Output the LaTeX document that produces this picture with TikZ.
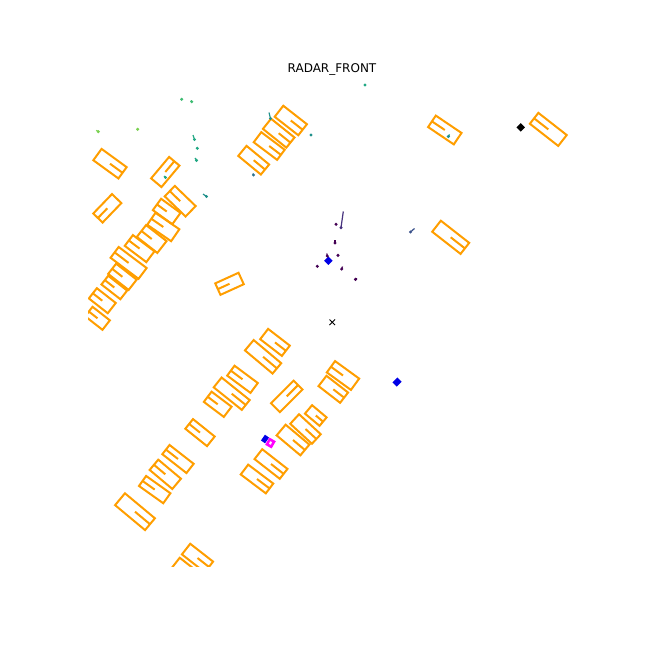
\documentclass[tikz,border=0pt]{standalone}
\usepackage{fontspec}
\setmainfont{DejaVu Sans}
\definecolor{carorange}{RGB}{255,158,0}
\definecolor{pedblue}{RGB}{0,0,230}
\definecolor{bikemagenta}{RGB}{255,0,255}
\definecolor{vir1}{HTML}{440154}
\definecolor{vir2}{HTML}{46327E}
\definecolor{vir3}{HTML}{3B528B}
\definecolor{vir4}{HTML}{2C728E}
\definecolor{vir5}{HTML}{21918C}
\definecolor{vir6}{HTML}{22A884}
\definecolor{vir7}{HTML}{3FBC73}
\definecolor{vir8}{HTML}{7AD151}

\begin{document}
\begin{tikzpicture}[x=1pt, y=-1pt,
    carbox/.style={draw=carorange, line width=2pt},
    pedbox/.style={draw, fill, line width=2pt},
    radarpt/.style={line width=1.2pt}
  ]
  \useasboundingbox (0,0) rectangle (648,648);
  \node[font=\fontsize{12}{14}\selectfont] (title) at (332,69) {RADAR\_FRONT};
  \begin{scope}
    \clip (88,78) rectangle (576,566);
    \foreach \cx/\cy/\ang/\len/\wid in {
        110/163.7/36/31/14, 107.3/208.3/134/27/13, 165.3/172/-50/28/13.5,
        180.2/201.2/-136/29/14.5, 166.7/211.5/216/24/14, 163.3/227/214.5/29/14.5,
        151.7/239/218/26/15, 139.6/248.6/217/27/13.5, 128.6/262.9/217/35/13.5,
        122.4/276.8/218/26/13, 114.3/287.5/218/24/11, 102.3/300.7/218/24/13,
        97.5/318.3/218/22/12,
        253.7/160.2/39.5/29.3/13, 269.2/146/37/29.3/12.6, 278.7/133.2/38.7/30/13,
        290.8/120.5/38/30/14,
        444.8/130/214/31/13.8, 548.3/129.4/218/36/13.8, 450.7/237.3/38/36/14,
        229.5/283.8/155.5/25.6/12.6,
        275/342.4/37.6/27.4/13, 263.1/356.8/40/36/13.5, 242.5/379.3/216.6/29/12.3,
        231.7/393.7/38.7/36/12.6, 217.7/404.3/217/25/12.8, 286.7/396.4/-45/32/12.5,
        200/432.6/218.7/27.8/12.3, 343/375.5/216/29.8/14, 333.3/389.3/37.7/27.3/13,
        315.8/415.5/40/19/11, 305.5/429/42.6/29.5/13, 293/440/40/31/14,
        271/464/38/32/12.5, 257/479/37/31.4/12.3,
        178/459/218/30.6/11.7, 165.3/474.3/220/29.6/13.4, 154.7/489.6/215.5/29.8/12.3,
        135/511.7/39.8/39/15.4, 197.5/558/38/29/13.5, 187/572/38/29/13.5}
      \draw[carbox, shift={(\cx,\cy)}, rotate=-\ang]
        (-\len/2,-\wid/2) rectangle (\len/2,\wid/2) (0,0) -- (\len/2,0);
    \foreach \cx/\cy/\ang/\len/\wid in {
        328.3/260.7/45/4/4, 397/382/45/4/5, 265/439/35/3/5}
      \draw[pedbox, pedblue, shift={(\cx,\cy)}, rotate=-\ang]
        (-\len/2,-\wid/2) rectangle (\len/2,\wid/2);
    \draw[pedbox, black, shift={(520.7,127.3)}, rotate=-45] (-2,-2) rectangle (2,2);
    \draw[draw=bikemagenta, line width=2.6pt, shift={(270.5,443)}, rotate=-30]
      (-2.4,-2.9) rectangle (2.4,2.9);
    \fill[white, shift={(270.5,443)}, rotate=-30]
      (-1.1,-0.4) circle (0.35) (1.1,0.4) circle (0.35);
    \foreach \px/\py/\qx/\qy/\col in {
        98.3/131.7/96.3/130.3/vir8, 137.7/129.3/137/128.3/vir8,
        181.7/99.3/181/98.5/vir7, 191.7/101.7/191/100.5/vir7,
        194.5/139.5/193/135/vir6, 197.3/148.3/196.8/147.5/vir6,
        196.5/160.3/195/158/vir6, 165.5/177.5/164/176/vir6,
        365/85/365/84.5/vir6,
        206.5/196.5/203/194/vir5, 270.5/118.5/269/112.5/vir5,
        311/135/311/134.5/vir5, 448.3/136.5/449.5/134.5/vir5,
        253.5/175/252.8/173.5/vir4,
        410.5/232/414.5/228.5/vir3,
        341/227.7/343.3/211.5/vir2,
        336/224.3/336/224/vir1, 335/243/335/239.5/vir1,
        327.3/256/326.8/253.5/vir1, 338/255.3/338/255/vir1,
        317.3/266.3/317.3/266/vir1, 341.7/269/342.5/266.5/vir1,
        355.5/279.3/357/278.5/vir1}
      {
        \fill[\col] (\px,\py) circle (1.7);
        \draw[radarpt, \col] (\px,\py) -- (\qx,\qy);
      }
  \end{scope}
  \draw[line width=0.9pt] (329.5,319.5) -- (335.1,325.1) (329.5,325.1) -- (335.1,319.5);
\end{tikzpicture}
\end{document}
